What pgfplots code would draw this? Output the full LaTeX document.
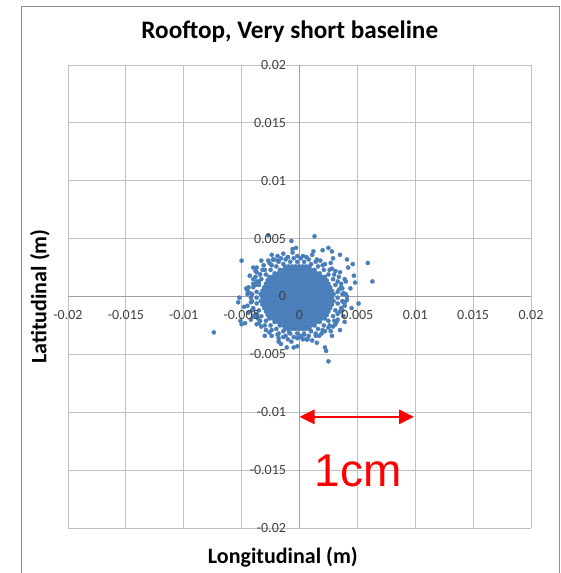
\documentclass[border=0pt]{standalone}
\usepackage{fontspec}
\setmainfont{Carlito}
\newfontfamily\arialfont{Liberation Sans}
\usepackage{pgfplots}
\pgfplotsset{compat=1.18}
\usetikzlibrary{arrows.meta}
\definecolor{ptblue}{RGB}{74,126,187}
\definecolor{gridgray}{RGB}{192,192,192}
\definecolor{axisgray}{RGB}{160,160,160}
\definecolor{framegray}{RGB}{140,140,140}
\pgfplotsset{
  rooftopbase/.style={
    at={(68pt,45pt)}, anchor=south west,
    width=463pt, height=463pt, scale only axis,
    xmin=-0.02, xmax=0.02, ymin=-0.02, ymax=0.02,
    axis lines=middle,
    scaled ticks=false,
    xtick={-0.02,-0.015,-0.01,-0.005,0,0.005,0.01,0.015,0.02},
    ytick={-0.02,-0.015,-0.01,-0.005,0,0.005,0.01,0.015,0.02},
    major tick length=0pt,
    hide obscured x ticks=false, hide obscured y ticks=false,
    clip=false,
  },
}
\begin{document}
\begin{tikzpicture}[x=1pt,y=1pt]
\useasboundingbox (0,0) rectangle (561,573);
\draw[draw=framegray, line width=0.9pt] (21,-5) -- (21,567) -- (559,567) -- (559,-5);
\begin{axis}[
  rooftopbase,
  axis line style={-, draw=axisgray, line width=0.8pt},
  xticklabels={}, yticklabels={},
  grid=major, major grid style={draw=gridgray, line width=0.8pt},
  title={Rooftop, Very short baseline},
  title style={at={(axis description cs:0.479,1.0432)}, anchor=base, font=\bfseries\fontsize{25.2}{29}\selectfont},
  xlabel={Longitudinal (m)}, ylabel={Latitudinal (m)},
  every axis x label/.style={at={(axis description cs:0.464,-0.0626)}, anchor=center, font=\bfseries\fontsize{22}{26}\selectfont},
  every axis y label/.style={at={(axis description cs:-0.0605,0.5)}, anchor=center, rotate=90, font=\bfseries\fontsize{22}{26}\selectfont},
]
\addplot[only marks, mark=*, mark size=2.1pt, draw=ptblue, fill=ptblue, mark options={draw=ptblue, fill=ptblue, line width=0.3pt}] coordinates {
(-0.00125,0.0026) (-0.00095,0.0026) (-0.00065,0.0026) (-0.00035,0.0026) (-0.00005,0.0026) (0.00025,0.0026) (0.00055,0.0026) (0.00085,0.0026)
(-0.0017,0.0023) (-0.0014,0.0023) (-0.0011,0.0023) (-0.0008,0.0023) (-0.0005,0.0023) (-0.0002,0.0023) (0.0001,0.0023) (0.0004,0.0023) (0.0007,0.0023) (0.001,0.0023) (0.0013,0.0023)
(-0.00215,0.002) (-0.00185,0.002) (-0.00155,0.002) (-0.00125,0.002) (-0.00095,0.002) (-0.00065,0.002) (-0.00035,0.002) (-0.00005,0.002) (0.00025,0.002) (0.00055,0.002) (0.00085,0.002) (0.00115,0.002) (0.00145,0.002) (0.00175,0.002)
(-0.0026,0.0017) (-0.0023,0.0017) (-0.002,0.0017) (-0.0017,0.0017) (-0.0014,0.0017) (-0.0011,0.0017) (-0.0008,0.0017) (-0.0005,0.0017) (-0.0002,0.0017) (0.0001,0.0017) (0.0004,0.0017) (0.0007,0.0017) (0.001,0.0017) (0.0013,0.0017) (0.0016,0.0017) (0.0019,0.0017) (0.0022,0.0017)
(-0.00275,0.0014) (-0.00245,0.0014) (-0.00215,0.0014) (-0.00185,0.0014) (-0.00155,0.0014) (-0.00125,0.0014) (-0.00095,0.0014) (-0.00065,0.0014) (-0.00035,0.0014) (-0.00005,0.0014) (0.00025,0.0014) (0.00055,0.0014) (0.00085,0.0014) (0.00115,0.0014) (0.00145,0.0014) (0.00175,0.0014) (0.00205,0.0014) (0.00235,0.0014)
(-0.0029,0.0011) (-0.0026,0.0011) (-0.0023,0.0011) (-0.002,0.0011) (-0.0017,0.0011) (-0.0014,0.0011) (-0.0011,0.0011) (-0.0008,0.0011) (-0.0005,0.0011) (-0.0002,0.0011) (0.0001,0.0011) (0.0004,0.0011) (0.0007,0.0011) (0.001,0.0011) (0.0013,0.0011) (0.0016,0.0011) (0.0019,0.0011) (0.0022,0.0011) (0.0025,0.0011)
(-0.00305,0.0008) (-0.00275,0.0008) (-0.00245,0.0008) (-0.00215,0.0008) (-0.00185,0.0008) (-0.00155,0.0008) (-0.00125,0.0008) (-0.00095,0.0008) (-0.00065,0.0008) (-0.00035,0.0008) (-0.00005,0.0008) (0.00025,0.0008) (0.00055,0.0008) (0.00085,0.0008) (0.00115,0.0008) (0.00145,0.0008) (0.00175,0.0008) (0.00205,0.0008) (0.00235,0.0008) (0.00265,0.0008)
(-0.0032,0.0005) (-0.0029,0.0005) (-0.0026,0.0005) (-0.0023,0.0005) (-0.002,0.0005) (-0.0017,0.0005) (-0.0014,0.0005) (-0.0011,0.0005) (-0.0008,0.0005) (-0.0005,0.0005) (-0.0002,0.0005) (0.0001,0.0005) (0.0004,0.0005) (0.0007,0.0005) (0.001,0.0005) (0.0013,0.0005) (0.0016,0.0005) (0.0019,0.0005) (0.0022,0.0005) (0.0025,0.0005) (0.0028,0.0005)
(-0.00335,0.0002) (-0.00305,0.0002) (-0.00275,0.0002) (-0.00245,0.0002) (-0.00215,0.0002) (-0.00185,0.0002) (-0.00155,0.0002) (-0.00125,0.0002) (-0.00095,0.0002) (-0.00065,0.0002) (-0.00035,0.0002) (-0.00005,0.0002) (0.00025,0.0002) (0.00055,0.0002) (0.00085,0.0002) (0.00115,0.0002) (0.00145,0.0002) (0.00175,0.0002) (0.00205,0.0002) (0.00235,0.0002) (0.00265,0.0002) (0.00295,0.0002)
(-0.0032,-0.0001) (-0.0029,-0.0001) (-0.0026,-0.0001) (-0.0023,-0.0001) (-0.002,-0.0001) (-0.0017,-0.0001) (-0.0014,-0.0001) (-0.0011,-0.0001) (-0.0008,-0.0001) (-0.0005,-0.0001) (-0.0002,-0.0001) (0.0001,-0.0001) (0.0004,-0.0001) (0.0007,-0.0001) (0.001,-0.0001) (0.0013,-0.0001) (0.0016,-0.0001) (0.0019,-0.0001) (0.0022,-0.0001) (0.0025,-0.0001) (0.0028,-0.0001)
(-0.00335,-0.0004) (-0.00305,-0.0004) (-0.00275,-0.0004) (-0.00245,-0.0004) (-0.00215,-0.0004) (-0.00185,-0.0004) (-0.00155,-0.0004) (-0.00125,-0.0004) (-0.00095,-0.0004) (-0.00065,-0.0004) (-0.00035,-0.0004) (-0.00005,-0.0004) (0.00025,-0.0004) (0.00055,-0.0004) (0.00085,-0.0004) (0.00115,-0.0004) (0.00145,-0.0004) (0.00175,-0.0004) (0.00205,-0.0004) (0.00235,-0.0004) (0.00265,-0.0004) (0.00295,-0.0004)
(-0.0032,-0.0007) (-0.0029,-0.0007) (-0.0026,-0.0007) (-0.0023,-0.0007) (-0.002,-0.0007) (-0.0017,-0.0007) (-0.0014,-0.0007) (-0.0011,-0.0007) (-0.0008,-0.0007) (-0.0005,-0.0007) (-0.0002,-0.0007) (0.0001,-0.0007) (0.0004,-0.0007) (0.0007,-0.0007) (0.001,-0.0007) (0.0013,-0.0007) (0.0016,-0.0007) (0.0019,-0.0007) (0.0022,-0.0007) (0.0025,-0.0007) (0.0028,-0.0007)
(-0.00305,-0.001) (-0.00275,-0.001) (-0.00245,-0.001) (-0.00215,-0.001) (-0.00185,-0.001) (-0.00155,-0.001) (-0.00125,-0.001) (-0.00095,-0.001) (-0.00065,-0.001) (-0.00035,-0.001) (-0.00005,-0.001) (0.00025,-0.001) (0.00055,-0.001) (0.00085,-0.001) (0.00115,-0.001) (0.00145,-0.001) (0.00175,-0.001) (0.00205,-0.001) (0.00235,-0.001) (0.00265,-0.001)
(-0.0029,-0.0013) (-0.0026,-0.0013) (-0.0023,-0.0013) (-0.002,-0.0013) (-0.0017,-0.0013) (-0.0014,-0.0013) (-0.0011,-0.0013) (-0.0008,-0.0013) (-0.0005,-0.0013) (-0.0002,-0.0013) (0.0001,-0.0013) (0.0004,-0.0013) (0.0007,-0.0013) (0.001,-0.0013) (0.0013,-0.0013) (0.0016,-0.0013) (0.0019,-0.0013) (0.0022,-0.0013) (0.0025,-0.0013)
(-0.00275,-0.0016) (-0.00245,-0.0016) (-0.00215,-0.0016) (-0.00185,-0.0016) (-0.00155,-0.0016) (-0.00125,-0.0016) (-0.00095,-0.0016) (-0.00065,-0.0016) (-0.00035,-0.0016) (-0.00005,-0.0016) (0.00025,-0.0016) (0.00055,-0.0016) (0.00085,-0.0016) (0.00115,-0.0016) (0.00145,-0.0016) (0.00175,-0.0016) (0.00205,-0.0016) (0.00235,-0.0016)
(-0.0026,-0.0019) (-0.0023,-0.0019) (-0.002,-0.0019) (-0.0017,-0.0019) (-0.0014,-0.0019) (-0.0011,-0.0019) (-0.0008,-0.0019) (-0.0005,-0.0019) (-0.0002,-0.0019) (0.0001,-0.0019) (0.0004,-0.0019) (0.0007,-0.0019) (0.001,-0.0019) (0.0013,-0.0019) (0.0016,-0.0019) (0.0019,-0.0019) (0.0022,-0.0019)
(-0.00215,-0.0022) (-0.00185,-0.0022) (-0.00155,-0.0022) (-0.00125,-0.0022) (-0.00095,-0.0022) (-0.00065,-0.0022) (-0.00035,-0.0022) (-0.00005,-0.0022) (0.00025,-0.0022) (0.00055,-0.0022) (0.00085,-0.0022) (0.00115,-0.0022) (0.00145,-0.0022) (0.00175,-0.0022)
(-0.0017,-0.0025) (-0.0014,-0.0025) (-0.0011,-0.0025) (-0.0008,-0.0025) (-0.0005,-0.0025) (-0.0002,-0.0025) (0.0001,-0.0025) (0.0004,-0.0025) (0.0007,-0.0025) (0.001,-0.0025) (0.0013,-0.0025)
(-0.00125,-0.0028) (-0.00095,-0.0028) (-0.00065,-0.0028) (-0.00035,-0.0028) (-0.00005,-0.0028) (0.00025,-0.0028) (0.00055,-0.0028) (0.00085,-0.0028)
(0.0033,-0.0001) (0.0033,0.0004) (0.0031,0.001) (0.0029,0.0015) (0.0025,0.0019) (0.0021,0.0023) (0.0016,0.0026) (0.001,0.0028) (0.0004,0.003) (-0.0002,0.003)
(-0.0008,0.003) (-0.0014,0.0028) (-0.002,0.0026) (-0.0025,0.0023) (-0.0029,0.0019) (-0.0033,0.0015) (-0.0035,0.001) (-0.0037,0.0004) (-0.0037,-0.0001)
(-0.0037,-0.0006) (-0.0035,-0.0012) (-0.0033,-0.0017) (-0.0029,-0.0021) (-0.0025,-0.0025) (-0.002,-0.0028) (-0.0014,-0.003) (-0.0008,-0.0032) (-0.0002,-0.0032)
(0.0004,-0.0032) (0.001,-0.003) (0.0016,-0.0028) (0.0021,-0.0025) (0.0025,-0.0021) (0.0029,-0.0017) (0.0031,-0.0012) (0.0033,-0.0006)
(0.0037,0.0002) (0.0036,0.0008) (0.0033,0.0013) (0.003,0.0019) (0.0026,0.0023) (0.002,0.0027) (0.0014,0.003) (0.0008,0.0032) (0.0001,0.0033)
(-0.0005,0.0033) (-0.0012,0.0032) (-0.0018,0.003) (-0.0024,0.0027) (-0.003,0.0023) (-0.0034,0.0019) (-0.0037,0.0013) (-0.004,0.0008) (-0.0041,0.0002)
(-0.0041,-0.0004) (-0.004,-0.001) (-0.0037,-0.0015) (-0.0034,-0.0021) (-0.003,-0.0025) (-0.0024,-0.0029) (-0.0018,-0.0032) (-0.0012,-0.0034) (-0.0005,-0.0035)
(0.0001,-0.0035) (0.0008,-0.0034) (0.0014,-0.0032) (0.002,-0.0029) (0.0026,-0.0025) (0.003,-0.0021) (0.0033,-0.0015) (0.0036,-0.001) (0.0037,-0.0004)
(0.0038,0.0003) (0.0036,0.0011) (0.0034,0.0017) (0.0028,0.0024) (0.0022,0.0028) (0.0015,0.0032) (0.0006,0.0034) (-0.0002,0.0035) (-0.001,0.0034) (-0.0019,0.0031)
(-0.0026,0.0029) (-0.0032,0.0023) (-0.0038,0.0017) (-0.004,0.0011) (-0.0043,0.0003) (-0.0042,-0.0005) (-0.0041,-0.0012) (-0.0036,-0.0019) (-0.0033,-0.0026) (-0.0026,-0.0031)
(-0.0019,-0.0033) (-0.001,-0.0037) (-0.0002,-0.0036) (0.0006,-0.0037) (0.0014,-0.0034) (0.0022,-0.003) (0.0029,-0.0026) (0.0033,-0.002) (0.0037,-0.0012) (0.0039,-0.0005)
(0.0041,0) (0.0037,0.0007) (0.0039,0.0015) (0.0031,0.0022) (0.0027,0.0029) (0.0018,0.0031) (0.0011,0.0036) (0.0003,0.0035) (-0.0006,0.0038) (-0.0016,0.0033)
(-0.0023,0.0032) (-0.0031,0.0027) (-0.0037,0.0021) (-0.004,0.0015) (-0.0044,0.0008) (-0.0042,-0.0001) (-0.0045,-0.0008) (-0.004,-0.0017) (-0.0037,-0.0024) (-0.0029,-0.0029)
(-0.0024,-0.0034) (-0.0014,-0.0035) (-0.0007,-0.0039) (0.0003,-0.0037) (0.0011,-0.0038) (0.0019,-0.0032) (0.0027,-0.003) (0.0032,-0.0022) (0.0038,-0.0017) (0.0039,-0.0008)
(0.0044,0.0007) (0.0035,0.0021) (0.0029,0.0033) (0.0012,0.0039) (-0.0003,0.0042) (-0.0019,0.0035) (-0.0033,0.0031) (-0.0043,0.0018) (-0.0046,0.0007)
(-0.0048,-0.0009) (-0.0042,-0.002) (-0.003,-0.0034) (-0.0016,-0.0041) (-0.0002,-0.0043) (0.0015,-0.004) (0.0028,-0.0034) (0.0039,-0.0022) (0.0045,-0.001)
(-0.0007,0.0048) (0.0013,0.0052) (-0.005,0.0031) (0.0025,0.0042) (0.0028,0.0039) (0.002,0.004) (-0.0014,0.0037) (-0.001,0.0034) (-0.0024,0.0036) (-0.004,0.0025)
(-0.0037,0.0025) (-0.0027,0.0031) (0.0046,0.0028) (0.0042,0.0025) (0.0047,0.0018) (0.004,0.0013) (0.0034,0.0006) (0.0051,-0.0006) (0.0038,-0.0005) (0.0035,-0.0013)
(0.0031,-0.0024) (0.0025,-0.0027) (0.0017,-0.0034) (0.0007,-0.0037) (0.0004,-0.0033) (-0.0018,-0.0039) (-0.0009,-0.0031) (-0.0035,-0.0023) (-0.005,-0.0024) (-0.0047,-0.0023)
(-0.0053,-0.0005) (-0.0052,-0.0001) (-0.0045,0.0002) (-0.0038,0.001) (-0.0034,0.0019) (-0.004,-0.0011) (-0.0038,-0.0017) (-0.0027,0.0053) (0.0059,0.0029) (0.0063,0.0013)
(-0.0074,-0.0031) (-0.0051,-0.0021) (-0.0011,-0.0044) (-0.0005,-0.0044) (0.0022,-0.0044) (0.0023,-0.0047) (0.0025,-0.0056) (-0.0018,-0.0036) (0.0001,-0.0034) (-0.0038,0.0022)
(-0.0006,0.0041) (0.0035,0.0036) (0.0041,0.0032) (0.0048,0.0012) (0.0041,-0.0003) (0.004,0.0002) (0.0035,-0.0029) (-0.0025,0.0028) (-0.0022,0.0032) (-0.0035,0.0013)
(-0.0045,0.0005) (-0.0044,-0.0014)
};
\draw[red, line width=2.7pt, {Triangle[length=15pt,width=14pt]}-{Triangle[length=15pt,width=14pt]}] (axis cs:0,-0.0104) -- (axis cs:0.0099,-0.0104);
\node[red, anchor=base, inner sep=0pt, font=\arialfont\fontsize{46}{50}\selectfont] at (axis cs:0.00507,-0.01645) {1cm};
\end{axis}
\begin{axis}[
  rooftopbase,
  axis line style={draw=none},
  xticklabels={-0.02,-0.015,-0.01,-0.005,0,0.005,0.01,0.015,0.02},
  yticklabels={-0.02,-0.015,-0.01,-0.005,0,0.005,0.01,0.015,0.02},
  tick label style={font=\fontsize{14}{16}\selectfont, text=black!75},
  xticklabel style={anchor=north, yshift=-10pt},
  yticklabel style={anchor=east, xshift=-10pt},
]
\end{axis}
\end{tikzpicture}
\end{document}
